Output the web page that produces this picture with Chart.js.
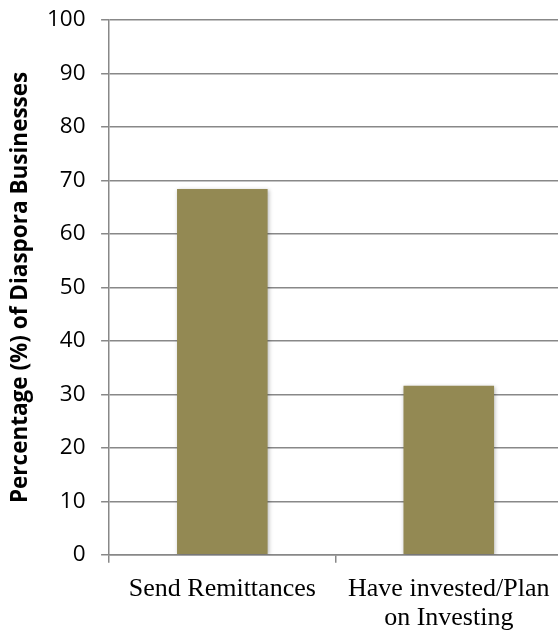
<!DOCTYPE html>
<html>
<head>
<meta charset="utf-8">
<script src="https://cdn.jsdelivr.net/npm/chart.js@4/dist/chart.umd.min.js"></script>
<style>
  html, body { margin: 0; padding: 0; background: #ffffff; overflow: hidden; }
  #wrap { width: 562px; height: 631px; }
</style>
</head>
<body>
<div id="wrap"><canvas id="chart" width="562" height="631"></canvas></div>
<script>
const categories = ['Send Remittances', ['Have invested/Plan', 'on Investing']];
const shareOfBusinesses = [68.4, 31.6];
const yTicks = [0, 10, 20, 30, 40, 50, 60, 70, 80, 90, 100];

// soft drop shadow behind the bars
const barShadow = {
  id: 'barShadow',
  beforeDatasetsDraw(chart) {
    const ctx = chart.ctx;
    ctx.save();
    ctx.shadowColor = 'rgba(0,0,0,0.28)';
    ctx.shadowBlur = 4;
    ctx.shadowOffsetX = 1;
    ctx.shadowOffsetY = 1;
  },
  afterDatasetsDraw(chart) {
    chart.ctx.restore();
  }
};

new Chart(document.getElementById('chart'), {
  type: 'bar',
  data: {
    labels: categories,
    datasets: [{
      data: shareOfBusinesses,
      backgroundColor: '#938953',
      borderWidth: 0,
      categoryPercentage: 1.0,
      barPercentage: 0.4
    }]
  },
  plugins: [barShadow],
  options: {
    responsive: false,
    animation: false,
    layout: { padding: { top: 0, right: 0, bottom: 0, left: 0 } },
    plugins: {
      legend: { display: false },
      tooltip: { enabled: false }
    },
    scales: {
      x: {
        afterFit(scale) { scale.height -= 13; },
        grid: {
          offset: true,
          drawOnChartArea: false,
          drawTicks: true,
          tickLength: 8,
          color: '#888888',
          lineWidth: 1.5
        },
        border: { display: true, color: '#888888', width: 1.5 },
        ticks: {
          color: '#000000',
          padding: 12,
          maxRotation: 0,
          autoSkip: false,
          font: { family: '"Liberation Serif", "Times New Roman", serif', size: 26, lineHeight: 1.1 }
        }
      },
      y: {
        min: 0,
        max: 100,
        afterBuildTicks(axis) { axis.ticks = yTicks.map(v => ({ value: v })); },
        afterFit(scale) { scale.paddingTop = 20; },
        grid: {
          color: '#888888',
          lineWidth: 1.5,
          drawTicks: true,
          tickLength: 8
        },
        border: { display: true, color: '#888888', width: 1.5 },
        ticks: {
          color: '#000000',
          padding: 15.5,
          font: { family: '"Open Sans", sans-serif', size: 22.5 }
        },
        title: {
          display: true,
          text: 'Percentage (%) of Diaspora Businesses',
          color: '#000000',
          padding: { top: 9, bottom: 0 },
          font: { family: '"Open Sans", sans-serif', size: 22.5, weight: 'bold', lineHeight: 1.0 }
        }
      }
    }
  }
});
</script>
</body>
</html>
